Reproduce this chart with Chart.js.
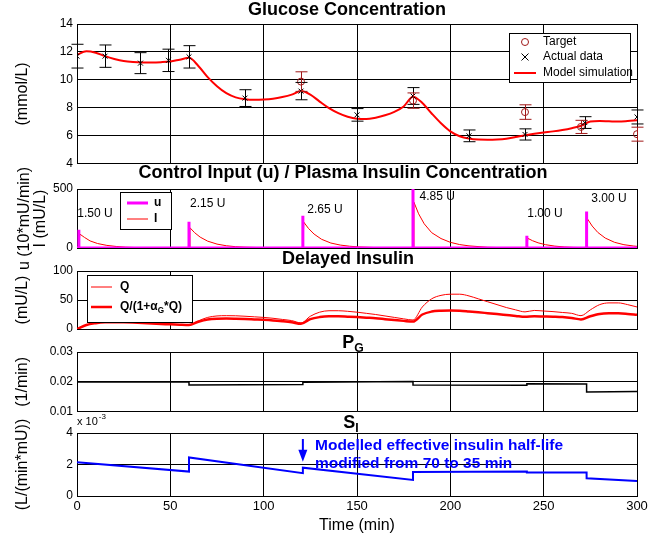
<!DOCTYPE html>
<html>
<head>
<meta charset="utf-8">
<script src="https://cdn.jsdelivr.net/npm/chart.js@4.4.1/dist/chart.umd.min.js"></script>
<style>
body { margin: 0; background: #fff; }
#fig { position: relative; width: 662px; height: 542px; }
#fig canvas { position: absolute; left: 0; }
</style>
</head>
<body>
<div id="fig">
<canvas id="glucose" width="662" height="175" style="top:0px"></canvas>
<canvas id="insulin" width="662" height="106" style="top:164px"></canvas>
<canvas id="delayed" width="662" height="92" style="top:249px"></canvas>
<canvas id="pg" width="662" height="91" style="top:332px"></canvas>
<canvas id="si" width="662" height="132" style="top:410px"></canvas>
</div>
<script>
// ---------- data ----------
// glucose measurements (mmol/L)
const dataTimes   = [0, 15, 34, 49, 60, 90, 120, 150, 180, 210, 240, 272, 300];
const dataGlucose = [11.7, 11.7, 11.2, 11.4, 11.65, 8.7, 9.2, 7.5, 8.85, 6.0, 6.1, 6.95, 7.35];
const dataErr     = [0.85, 0.8, 0.75, 0.8, 0.8, 0.6, 0.62, 0.45, 0.6, 0.42, 0.4, 0.42, 0.5];
const targetTimes   = [120, 180, 240, 270, 300];
const targetGlucose = [9.88, 8.52, 7.7, 6.64, 6.12];
const targetErr     = [0.7, 0.55, 0.52, 0.47, 0.5];

// model outputs sampled every 5 min
const simTimes = [0,5,10,15,20,25,30,35,40,45,50,55,60,65,70,75,80,85,90,95,100,105,110,115,120,125,130,135,140,145,150,155,160,165,170,175,180,185,190,195,200,205,210,215,220,225,230,235,240,245,250,255,260,265,270,275,280,285,290,295,300];
const glucoseModel = [11.8,12.05,11.95,11.7,11.5,11.35,11.28,11.25,11.25,11.27,11.32,11.45,11.58,11.0,10.2,9.55,9.05,8.75,8.62,8.58,8.6,8.66,8.78,8.95,9.2,8.95,8.45,7.98,7.62,7.36,7.22,7.2,7.3,7.47,7.72,8.1,8.8,8.35,7.6,6.9,6.32,5.97,5.8,5.73,5.72,5.74,5.8,5.92,6.05,6.15,6.24,6.32,6.42,6.55,6.72,7.02,7.06,7.04,7.02,7.06,7.12];
const delayedQ = [0,7,10.5,12,12.3,12,11.5,10.8,10,9.2,8.3,7.5,7,14,20,22.5,23,22.8,22,21,20,18.5,16.5,14.5,10.5,22,29,31.5,31.5,30.5,29,27,25,22.5,20,17.5,15.5,38,52,58,60,60,57,52,47,42,37,33,29.5,32,31,30,28.5,27,23,33,42,45,45,42,38];
const delayedQs = [0,7,10,11.5,11.7,11.5,11,10.3,9.5,8.8,8,7.3,6.8,12.5,16.5,17.8,18,17.7,17.2,16.5,15.8,14.8,13.3,11.5,9,17,20.5,21.8,21.8,21.2,20.5,19.5,18.5,17,15.5,14,12.8,25,30,31.5,32,31.5,30.2,28.8,27.3,25.8,24.2,22.6,21,22,21.6,21.2,20.6,19,16.5,22,26,27,27,26,24.5];

// insulin boluses
const doseTimes = [1, 60, 121, 180, 241, 273];
const doseUnits = [1.50, 2.15, 2.65, 4.85, 1.00, 3.00];
const doseRates = [155, 222, 273, 500, 103, 309];   // u, 10*mU/min

// plasma insulin I (mU/L)
const insulinTimes = [0,1,1.5,4,7,11,16,21,26,31,41,59, 60,60.5,63,66,70,75,80,85,90,100,110,120, 121,121.5,124,127,131,136,141,146,151,161,171,179, 180,180.5,183,186,190,195,200,205,210,220,230,240, 241,241.5,244,247,251,256,261,266,272, 273,273.5,276,279,283,288,293,298,300];
const insulinLevel = [0,0,118,90,60,38,22,13,7,4,1.5,0.5, 0.5,172,130,92,58,33,19,11,7,2.5,1,0.5, 0.5,219,166,118,74,42,25,15,9,3,1,0.5, 0.5,388,290,205,130,80,48,29,18,6,2,1, 1,82,62,44,28,16,9,5,3, 3,246,186,132,84,48,28,17,14];

// endogenous glucose removal P_G (1/min)
const pgTimes  = [0, 60, 60, 121, 121, 180, 180, 241, 241, 273, 273, 300];
const pgValues = [0.0200, 0.0200, 0.0190, 0.0191, 0.0199, 0.0201, 0.0190, 0.0189, 0.0194, 0.0193, 0.0166, 0.0168];

// insulin sensitivity S_I (x 10^-3 L/(min*mU))
const siTimes  = [0, 60, 60, 121, 121, 180, 180, 241, 241, 273, 273, 300];
const siValues = [2.15, 1.55, 2.45, 1.45, 1.8, 1.02, 1.52, 1.55, 1.5, 1.5, 1.12, 0.95];

// ---------- helpers ----------
const FONT = '"Liberation Sans", Arial, Helvetica, sans-serif';
Chart.defaults.font.family = FONT;
Chart.defaults.color = '#000';
Chart.defaults.animation = false;

const pts = (xs, ys) => xs.map((x, i) => ({ x: x, y: ys[i] }));

function uPoints() {
    const p = [{ x: 0, y: 0 }];
    doseTimes.forEach((t, i) => {
        p.push({ x: t, y: 0 }, { x: t, y: doseRates[i] }, { x: t, y: 0 });
    });
    p.push({ x: 300, y: 0 });
    return p;
}

// text with "_X" subscripts, returns width
function drawRich(ctx, text, x, y, size, bold, align) {
    const w = bold ? 'bold ' : '';
    const parts = text.split(/_(.)/);
    let total = 0;
    parts.forEach((p, i) => {
        ctx.font = w + (i % 2 ? size * 0.68 : size) + 'px ' + FONT;
        total += ctx.measureText(p).width;
    });
    if (align === 'center') x -= total / 2;
    ctx.textAlign = 'left';
    ctx.textBaseline = 'middle';
    parts.forEach((p, i) => {
        const sub = i % 2 === 1;
        ctx.font = w + (sub ? size * 0.68 : size) + 'px ' + FONT;
        ctx.fillText(p, x, sub ? y + size * 0.32 : y);
        x += ctx.measureText(p).width;
    });
    return total;
}

function drawMarker(ctx, style, x, y, r, color) {
    ctx.save();
    ctx.strokeStyle = color;
    ctx.lineWidth = 1;
    ctx.beginPath();
    if (style === 'crossRot') {
        ctx.moveTo(x - r, y - r); ctx.lineTo(x + r, y + r);
        ctx.moveTo(x - r, y + r); ctx.lineTo(x + r, y - r);
    } else {
        ctx.arc(x, y, r, 0, Math.PI * 2);
    }
    ctx.stroke();
    ctx.restore();
}

// ---------- plugins ----------
const panelTitle = {
    id: 'panelTitle',
    afterDraw(chart, args, o) {
        if (!o.text) return;
        const { ctx, chartArea: a } = chart;
        ctx.save();
        ctx.fillStyle = '#000';
        drawRich(ctx, o.text, (a.left + a.right) / 2 + (o.dx || 0), a.top - o.gap, 18, true, 'center');
        ctx.restore();
    }
};

const boxLegend = {
    id: 'boxLegend',
    afterDraw(chart, args, o) {
        if (!o.order) return;
        const ctx = chart.ctx;
        const [bx, by, bw, bh] = o.box;
        ctx.save();
        ctx.fillStyle = '#fff';
        ctx.fillRect(bx, by, bw, bh);
        ctx.strokeStyle = '#000';
        ctx.lineWidth = 1;
        ctx.strokeRect(bx + 0.5, by + 0.5, bw, bh);
        o.order.forEach((idx, k) => {
            const ds = chart.data.datasets[idx];
            const ry = o.rows[k];
            if (ds.showLine === false) {
                drawMarker(ctx, ds.pointStyle, (o.lineX[0] + o.lineX[1]) / 2, ry, 3.5, ds.pointBorderColor);
            } else {
                ctx.strokeStyle = ds.borderColor;
                ctx.lineWidth = ds.borderWidth;
                ctx.beginPath();
                ctx.moveTo(o.lineX[0], ry);
                ctx.lineTo(o.lineX[1], ry);
                ctx.stroke();
            }
            ctx.fillStyle = '#000';
            drawRich(ctx, ds.label, o.textX, ry, o.size, o.bold);
        });
        ctx.restore();
    }
};

const errorBars = {
    id: 'errorBars',
    afterDatasetsDraw(chart, args, o) {
        if (!o.sets) return;
        const { ctx, scales: { y } } = chart;
        ctx.save();
        o.sets.forEach(s => {
            const meta = chart.getDatasetMeta(s.dataset);
            const vals = chart.data.datasets[s.dataset].data;
            ctx.strokeStyle = s.color;
            ctx.lineWidth = 1;
            meta.data.forEach((p, i) => {
                const y1 = y.getPixelForValue(vals[i].y + s.err[i]);
                const y2 = y.getPixelForValue(vals[i].y - s.err[i]);
                const px = Math.round(p.x) + 0.5;
                ctx.beginPath();
                ctx.moveTo(px, y1); ctx.lineTo(px, y2);
                ctx.moveTo(px - 6, y1); ctx.lineTo(px + 6, y1);
                ctx.moveTo(px - 6, y2); ctx.lineTo(px + 6, y2);
                ctx.stroke();
            });
        });
        ctx.restore();
    }
};

const notes = {
    id: 'notes',
    afterDraw(chart, args, o) {
        const { ctx, chartArea: a, scales: { x, y } } = chart;
        ctx.save();
        (o.labels || []).forEach(l => {
            ctx.font = l.font;
            ctx.fillStyle = l.color || '#000';
            ctx.textAlign = l.align || 'center';
            ctx.textBaseline = 'middle';
            ctx.fillText(l.text, x.getPixelForValue(l.x), y.getPixelForValue(l.y));
        });
        if (o.arrow) {
            const ax = x.getPixelForValue(o.arrow.x);
            const y1 = y.getPixelForValue(o.arrow.from);
            const y2 = y.getPixelForValue(o.arrow.to);
            ctx.strokeStyle = o.arrow.color;
            ctx.fillStyle = o.arrow.color;
            ctx.lineWidth = 2;
            ctx.beginPath();
            ctx.moveTo(ax, y1); ctx.lineTo(ax, y2 - 10);
            ctx.stroke();
            ctx.beginPath();
            ctx.moveTo(ax - 4.5, y2 - 12); ctx.lineTo(ax + 4.5, y2 - 12); ctx.lineTo(ax, y2);
            ctx.closePath();
            ctx.fill();
        }
        if (o.exponent) {
            ctx.fillStyle = '#000';
            ctx.textAlign = 'left';
            ctx.textBaseline = 'middle';
            ctx.font = '11px ' + FONT;
            ctx.fillText('x 10', a.left, a.top - 11);
            const w = ctx.measureText('x 10').width;
            ctx.font = '8px ' + FONT;
            ctx.fillText(o.exponent, a.left + w + 1, a.top - 16);
        }
        ctx.restore();
    }
};

Chart.register(panelTitle, boxLegend, errorBars, notes);

// ---------- axes ----------
function timeAxis(showLabels) {
    return {
        type: 'linear', min: 0, max: 300,
        ticks: { stepSize: 50, display: showLabels, padding: 3, color: '#000', font: { size: 13 }, maxRotation: 0 },
        grid: { color: '#000', lineWidth: 1, drawTicks: false },
        border: { color: '#000', width: 1 },
        title: { display: showLabels, text: 'Time (min)', color: '#000', font: { size: 16 }, padding: { top: 0, bottom: 7 } },
        afterFit: s => { s.height = showLabels ? 46 : 0; }
    };
}

function valueAxis(min, max, step, label, fmt) {
    const multi = Array.isArray(label);
    return {
        min: min, max: max,
        ticks: { stepSize: step, color: '#000', font: { size: 12 }, padding: 4, callback: fmt || (v => v) },
        grid: { color: '#000', lineWidth: 1, drawTicks: false },
        border: { color: '#000', width: 1 },
        title: {
            display: true, text: label, color: '#000',
            font: { size: 16, lineHeight: multi ? 1 : 1.2 },
            padding: { top: multi ? 16.5 : 13, bottom: 0 }
        },
        afterFit: s => { s.width = 77; }
    };
}

function baseOptions(top, bottom, yAxis, plugins, lastPanel) {
    return {
        responsive: false,
        events: [],
        layout: { padding: { left: 0, right: 25, top: top, bottom: bottom } },
        scales: { x: timeAxis(!!lastPanel), y: yAxis },
        plugins: Object.assign({ legend: { display: false }, title: { display: false }, tooltip: { enabled: false } }, plugins)
    };
}

// ---------- Glucose Concentration ----------
new Chart(document.getElementById('glucose'), {
    type: 'line',
    data: {
        datasets: [
            { label: 'Actual data', data: pts(dataTimes, dataGlucose), showLine: false,
              pointStyle: 'crossRot', pointRadius: 3.5, pointBorderColor: '#000', pointBorderWidth: 1, borderColor: '#000' },
            { label: 'Target', data: pts(targetTimes, targetGlucose), showLine: false,
              pointStyle: 'circle', pointRadius: 3.5, pointBorderColor: '#a01818', pointBackgroundColor: 'rgba(0,0,0,0)',
              pointBorderWidth: 1, borderColor: '#a01818' },
            { label: 'Model simulation', data: pts(simTimes, glucoseModel), borderColor: '#ff0000', borderWidth: 2,
              pointRadius: 0, cubicInterpolationMode: 'monotone' }
        ]
    },
    options: baseOptions(24, 10, valueAxis(4, 14, 2, '(mmol/L)'), {
        panelTitle: { text: 'Glucose Concentration', gap: 14.3, dx: -10 },
        boxLegend: { order: [1, 0, 2], box: [509, 33, 121, 49], rows: [42, 57, 73], lineX: [514, 536], textX: 543, size: 12, bold: false },
        errorBars: { sets: [ { dataset: 0, err: dataErr, color: '#000' }, { dataset: 1, err: targetErr, color: '#a01818' } ] }
    })
});

// ---------- Control Input / Plasma Insulin ----------
new Chart(document.getElementById('insulin'), {
    type: 'line',
    data: {
        datasets: [
            { label: 'u', data: uPoints(), borderColor: '#ff00ff', borderWidth: 3, pointRadius: 0 },
            { label: 'I', data: pts(insulinTimes, insulinLevel), borderColor: '#ff0000', borderWidth: 1, pointRadius: 0 }
        ]
    },
    options: baseOptions(25, 22, valueAxis(0, 500, 500, ['u (10*mU/min)', 'I (mU/L)']), {
        panelTitle: { text: 'Control Input (u) / Plasma Insulin Concentration', gap: 16.3, dx: -14 },
        boxLegend: { order: [0, 1], box: [120, 28, 51, 37], rows: [39, 55], lineX: [127, 148], textX: 154, size: 12, bold: true },
        notes: {
            labels: [[9.6, 287], [70, 374], [132.8, 322], [193, 437], [250.7, 295], [285, 415]].map((p, i) => ({
                text: doseUnits[i].toFixed(2) + ' U', x: p[0], y: p[1], font: '12px ' + FONT
            }))
        }
    })
});

// ---------- Delayed Insulin ----------
new Chart(document.getElementById('delayed'), {
    type: 'line',
    data: {
        datasets: [
            { label: 'Q/(1+α_G*Q)', data: pts(simTimes, delayedQs), borderColor: '#ff0000', borderWidth: 2.5,
              pointRadius: 0, cubicInterpolationMode: 'monotone' },
            { label: 'Q', data: pts(simTimes, delayedQ), borderColor: '#ff0000', borderWidth: 1,
              pointRadius: 0, cubicInterpolationMode: 'monotone' }
        ]
    },
    options: baseOptions(22, 12, valueAxis(0, 100, 50, '(mU/L)'), {
        panelTitle: { text: 'Delayed Insulin', gap: 11.8, dx: -9 },
        boxLegend: { order: [1, 0], box: [87, 26, 105, 47], rows: [38, 58], lineX: [91, 112], textX: 120, size: 12, bold: true }
    })
});

// ---------- P_G ----------
new Chart(document.getElementById('pg'), {
    type: 'line',
    data: {
        datasets: [
            { label: 'P_G', data: pts(pgTimes, pgValues), borderColor: '#000', borderWidth: 1.5, pointRadius: 0 }
        ]
    },
    options: baseOptions(20, 10, valueAxis(0.01, 0.03, 0.01, '(1/min)', v => v.toFixed(2)), {
        panelTitle: { text: 'P_G', gap: 9, dx: -4 }
    })
});

// ---------- S_I ----------
new Chart(document.getElementById('si'), {
    type: 'line',
    data: {
        datasets: [
            { label: 'S_I', data: pts(siTimes, siValues), borderColor: '#0000ff', borderWidth: 2, pointRadius: 0 }
        ]
    },
    options: baseOptions(23, 0, valueAxis(0, 4, 2, '(L/(min*mU))'), {
        panelTitle: { text: 'S_I', gap: 9.8, dx: -6 },
        notes: {
            exponent: '-3',
            arrow: { x: 121, from: 3.62, to: 2.18, color: '#0000ff' },
            labels: [
                { text: 'Modelled effective insulin half-life', x: 127.5, y: 3.19, align: 'left', color: '#0000ff', font: 'bold 15.5px ' + FONT },
                { text: 'modified from 70 to 35 min', x: 127.5, y: 2.08, align: 'left', color: '#0000ff', font: 'bold 15.5px ' + FONT }
            ]
        }
    }, true)
});
</script>
</body>
</html>
